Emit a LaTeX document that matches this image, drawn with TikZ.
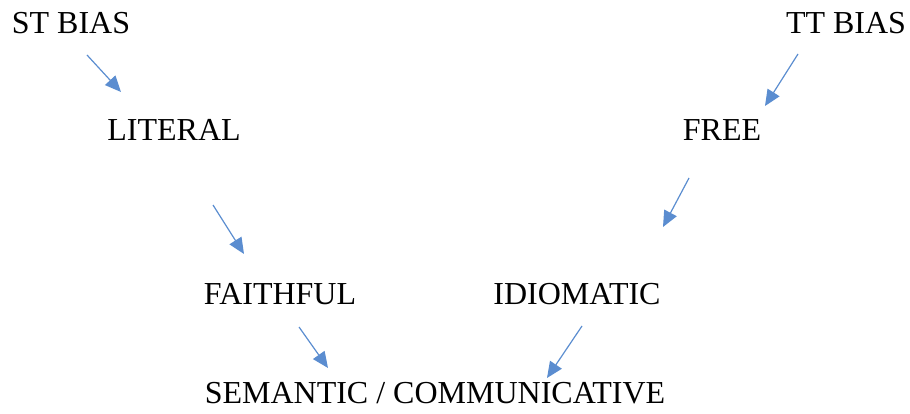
\documentclass[tikz,border=0pt]{standalone}
\usepackage{fontspec}
\setmainfont{Liberation Serif}
\usetikzlibrary{arrows.meta}
\definecolor{arrowblue}{HTML}{5B8DD0}
\tikzset{
  term/.style={anchor=base, inner sep=0pt, font=\fontsize{32}{38}\selectfont},
  link/.style={draw=arrowblue, line width=1.2pt,
    -{Triangle[length=16pt,width=14pt,fill=arrowblue]}}
}
\begin{document}
\begin{tikzpicture}[x=1pt,y=-1pt]
  \useasboundingbox (0,0) rectangle (910,414);
  % terms
  \node[term] (st)   at (71,34)   {ST BIAS};
  \node[term] (tt)   at (846,34)  {TT BIAS};
  \node[term] (lit)  at (174,141) {LITERAL};
  \node[term] (free) at (722,141) {FREE};
  \node[term] (fai)  at (280,304) {FAITHFUL};
  \node[term] (idi)  at (577,304) {IDIOMATIC};
  \node[term] (sem)  at (435,403) {SEMANTIC / COMMUNICATIVE};
  % arrow end points
  \coordinate (a1s) at (87,55);   \coordinate (a1e) at (121,92);
  \coordinate (a2s) at (798,54);  \coordinate (a2e) at (765,106);
  \coordinate (a3s) at (689,178); \coordinate (a3e) at (663,227);
  \coordinate (a4s) at (213,205); \coordinate (a4e) at (244,254);
  \coordinate (a5s) at (299,327); \coordinate (a5e) at (328,368);
  \coordinate (a6s) at (582,326); \coordinate (a6e) at (547,378);
  % arrows
  \draw[link] (a1s) -- (a1e);
  \draw[link] (a2s) -- (a2e);
  \draw[link] (a3s) -- (a3e);
  \draw[link] (a4s) -- (a4e);
  \draw[link] (a5s) -- (a5e);
  \draw[link] (a6s) -- (a6e);
\end{tikzpicture}
\end{document}
